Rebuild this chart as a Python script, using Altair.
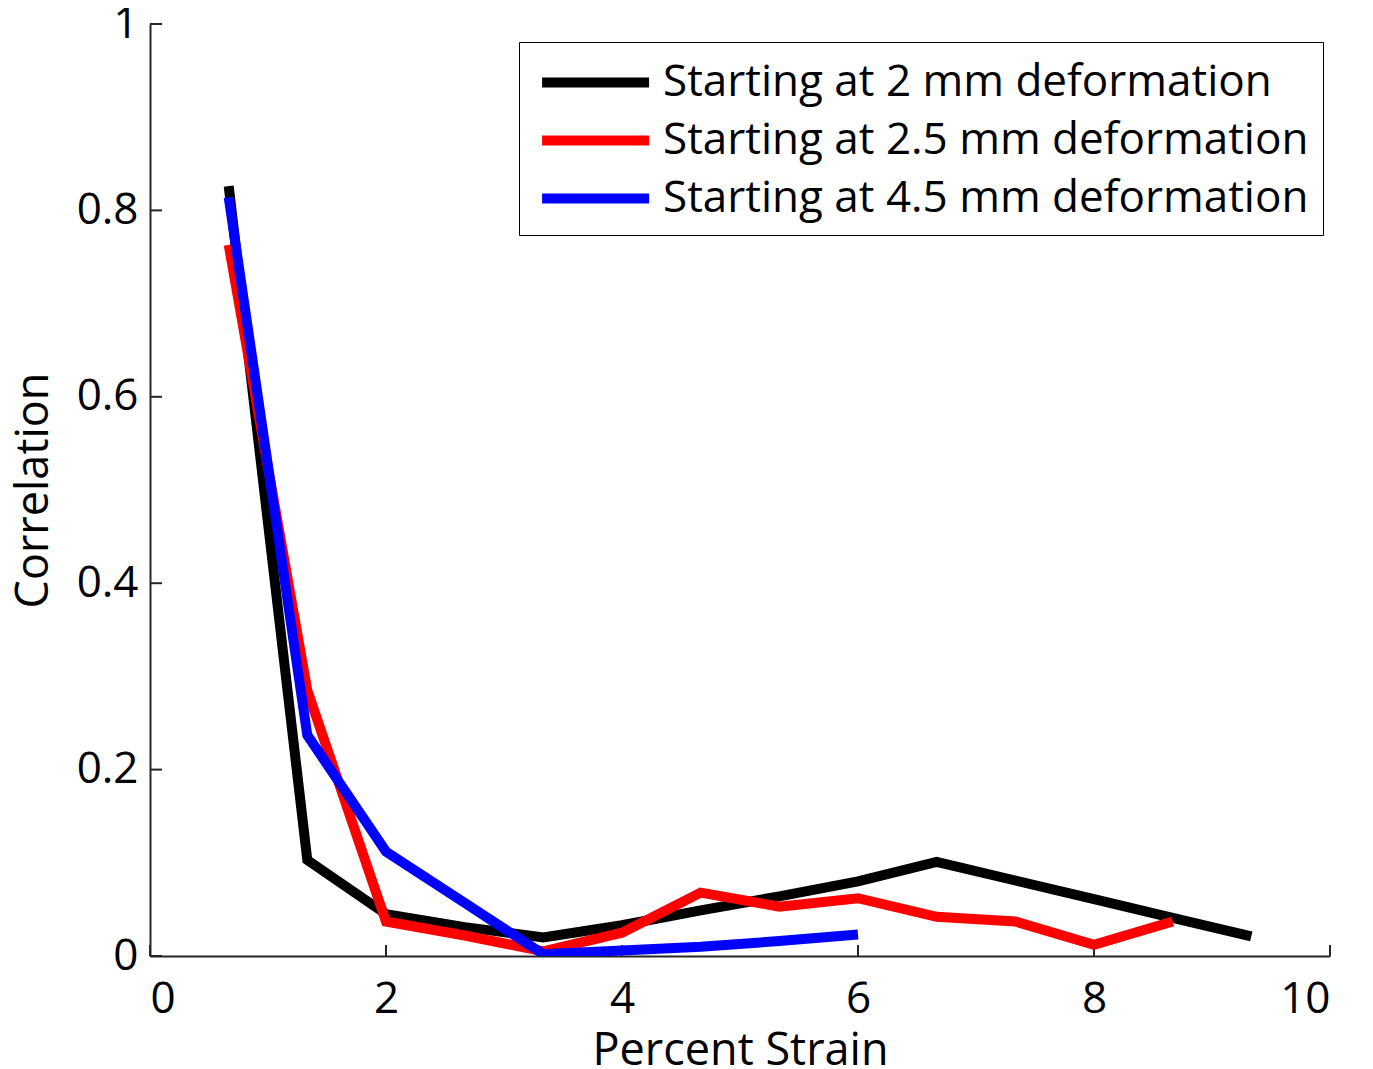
import altair as alt
import pandas as pd

FONT = "Open Sans, sans-serif"

series_names = [
    "Starting at 2 mm deformation",
    "Starting at 2.5 mm deformation",
    "Starting at 4.5 mm deformation",
]
series_colors = ["#000000", "#ff0000", "#0000ff"]

strain_black = [0.667, 1.333, 2.0, 2.667, 3.333, 4.0, 4.667, 5.333, 6.0, 6.667, 7.333, 8.0, 8.667, 9.333]
corr_black = [0.826, 0.103, 0.045, 0.031, 0.020, 0.033, 0.049, 0.064, 0.080, 0.101, 0.081, 0.061, 0.041, 0.021]

strain_red = [0.667, 1.333, 2.0, 2.667, 3.333, 4.0, 4.667, 5.333, 6.0, 6.667, 7.333, 8.0, 8.667]
corr_red = [0.763, 0.285, 0.037, 0.022, 0.005, 0.025, 0.068, 0.053, 0.062, 0.042, 0.037, 0.012, 0.037]

strain_blue = [0.667, 1.333, 2.0, 2.667, 3.333, 4.0, 4.667, 5.333, 6.0]
corr_blue = [0.814, 0.237, 0.112, 0.057, 0.002, 0.006, 0.010, 0.016, 0.023]

x_ticks = [0, 2, 4, 6, 8, 10]
y_ticks = [0, 0.2, 0.4, 0.6, 0.8, 1.0]

rows = []
for i, (xs, ys) in enumerate([(strain_black, corr_black), (strain_red, corr_red), (strain_blue, corr_blue)]):
    for j, (a, b) in enumerate(zip(xs, ys)):
        rows.append({"series": series_names[i], "order": i, "idx": j, "strain": a, "corr": b})
df = pd.DataFrame(rows)

W, H = 1180, 932

xscale = alt.Scale(domain=[0, 10], nice=False, zero=False)
yscale = alt.Scale(domain=[0, 1], nice=False, zero=False)

lines = alt.Chart(df).mark_line(strokeWidth=10, strokeCap="butt", strokeJoin="miter", clip=True).encode(
    x=alt.X("strain:Q", scale=xscale,
            axis=alt.Axis(title="Percent Strain", values=x_ticks, format="~g", grid=False,
                          tickSize=0, labelPadding=21, titlePadding=7)),
    y=alt.Y("corr:Q", scale=yscale,
            axis=alt.Axis(title="Correlation", values=y_ticks, format="~g", grid=False,
                          tickSize=0, labelPadding=12, titlePadding=20)),
    color=alt.Color("series:N", scale=alt.Scale(domain=series_names, range=series_colors),
                    sort=series_names,
                    legend=alt.Legend(title=None, orient="none", legendX=369, legendY=18,
                                      symbolType="M-0.813,0H4.187", symbolSize=1832,
                                      symbolStrokeWidth=10,
                                      labelFontSize=44, labelFont=FONT, labelLimit=0,
                                      rowPadding=9, padding=14, labelOffset=77,
                                      fillColor="white", strokeColor="black")),
    detail="order:O",
    order="idx:Q",
)

xt = pd.DataFrame({"v": x_ticks})
yt = pd.DataFrame({"v": y_ticks})

xtick_rules = alt.Chart(xt).mark_rule(color="#262626", strokeWidth=2).encode(
    x=alt.X("v:Q", scale=xscale), y=alt.value(H), y2=alt.value(H - 11))
ytick_rules = alt.Chart(yt).mark_rule(color="#262626", strokeWidth=2).encode(
    y=alt.Y("v:Q", scale=yscale), x=alt.value(0), x2=alt.value(12))

chart = alt.layer(xtick_rules, ytick_rules, lines).properties(
    width=W, height=H,
    autosize=alt.AutoSizeParams(type="none"),
    padding={"left": 142, "top": 16, "right": 30, "bottom": 113},
).configure_view(stroke=None).configure_axis(
    domainColor="#262626", domainWidth=2,
    labelFont=FONT, labelFontSize=44, labelColor="black",
    titleFont=FONT, titleFontSize=45, titleFontWeight="normal", titleColor="black",
).configure_legend(labelColor="black")

chart.save("out.html", embed_options={"renderer": "svg", "actions": False})
